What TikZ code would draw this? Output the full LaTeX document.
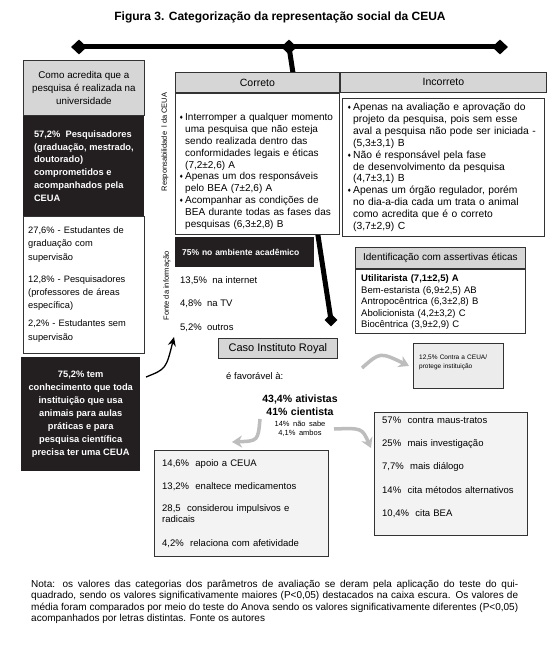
\documentclass[tikz,border=0pt]{standalone}
\usepackage{fontspec}
\setmainfont{Liberation Sans}
\newfontfamily\symfont{DejaVu Sans}
\usetikzlibrary{positioning,shapes.geometric,arrows.meta}

\definecolor{hdrgray}{HTML}{D6D6D6}
\definecolor{inkblack}{HTML}{231F20}
\definecolor{palegray}{HTML}{F3F3F3}
\definecolor{contragray}{HTML}{ECECEC}
\definecolor{brushgray}{HTML}{BDBDBD}
\definecolor{edgegray}{HTML}{333333}

\newcommand\fsz[2]{\fontsize{#1}{#2}\selectfont}
\newcommand\bul{\makebox[6pt][l]{\raisebox{1pt}{\symfont\fsz{5}{6}\char"2666}}}
\newcommand\ind{\hspace*{6pt}}

\begin{document}
\begin{tikzpicture}[x=1pt, y=-1pt,
  boxat/.style n args={4}{anchor=north west, at={(#1,#2)}, minimum width=#3pt, minimum height=#4pt},
  size/.style 2 args={minimum width=#1pt, minimum height=#2pt},
  tip/.style={diamond, fill=black, inner sep=0pt, minimum width=16pt, minimum height=15pt},
  bar/.style={line width=5pt},
  hdr/.style={draw=edgegray, line width=0.8pt, fill=hdrgray, inner sep=0pt, align=center},
  plain/.style={draw=edgegray, line width=0.8pt, fill=white, inner sep=0pt},
  pale/.style={draw=edgegray, line width=0.8pt, fill=palegray, inner sep=0pt},
  dark/.style={fill=inkblack, text=white, inner sep=0pt},
  txt/.style={anchor=base west, align=left, inner sep=0pt},
  brush/.style={draw=brushgray, line width=3.5pt, -{Stealth[length=10pt, width=12pt]}},
  ink/.style={line width=1.3pt, -{Stealth[length=9pt, width=8pt]}}
]
\path[use as bounding box, fill=white] (0,0) rectangle (549,658);

\node[font=\fsz{12}{14}\bfseries] (title) at (280,17) {Figura 3. Categorização da representação social da CEUA};

\node[tip] (barL) at (79,47) {};
\node[tip] (barM) at (289,47) {};
\node[tip] (barR) at (500,47) {};
\node[tip, minimum width=13pt, minimum height=13pt] (barE) at (331,320) {};
\draw[bar] (barL.center) -- (barR.center);
\draw[bar] (barM.center) -- (barE.center);

\node[hdr, boxat={23}{60}{121}{55}, font=\fsz{9.8}{13.3}] (crHead) {Como acredita que a\\pesquisa é realizada na\\universidade};
\node[dark, size={121}{100}, below=0pt of crHead, align=left, font=\fsz{9.3}{12.7}\bfseries] (crTop) {57,2\%~ Pesquisadores\\(graduação, mestrado,\\doutorado)\\comprometidos e\\acompanhados pela\\CEUA};
\node[plain, size={121}{137}, below=0pt of crTop] (crRest) {};
\node[txt, text width=115pt, font=\fsz{9.3}{13.3}] (crRestT) at (28,233.5) {27,6\% - Estudantes de\\graduação com\\supervisão\\[8.7pt]12,8\% - Pesquisadores\\(professores de áreas\\específica)\\[4.7pt]2,2\% - Estudantes sem\\supervisão};
\node[dark, boxat={21}{357}{119}{114}, align=center, font=\fsz{9.3}{13}\bfseries] (know) {75,2\% tem\\conhecimento que toda\\instituição que usa\\animais para aulas\\práticas e para\\pesquisa científica\\precisa ter uma CEUA};

\node[rotate=90, font=\fsz{7.5}{9}] (resp) at (165,142) {Responsabilidade\ \ l da CEUA};
\node[rotate=90, font=\fsz{7.5}{9}] (fonte) at (167,286) {Fonte da informação};

\node[hdr, boxat={175}{72}{164}{20}, font=\fsz{10.5}{12}] (corH) {Correto};
\node[plain, size={164}{141}, below=0pt of corH] (corB) {};
\node[txt, text width=160pt, font=\fsz{10}{11.9}] (corT) at (179,120.5) {\bul Interromper a qualquer momento\\\ind uma pesquisa que não esteja\\\ind sendo realizada dentro das\\\ind conformidades legais e éticas\\\ind (7,2±2,6) A\\\bul Apenas um dos responsáveis\\\ind pelo BEA (7±2,6) A\\\bul Acompanhar as condições de\\\ind BEA durante todas as fases das\\\ind pesquisas (6,3±2,8) B};

\node[hdr, boxat={340}{72}{206}{20}, font=\fsz{10.5}{12}] (incH) {Incorreto};
\node[plain, size={202}{138}, below=5pt of incH] (incB) {};
\node[txt, text width=195pt, font=\fsz{10.3}{11.9}] (incT) at (347,110.5) {\bul Apenas na avaliação e aprovação do\\\ind projeto da pesquisa, pois sem esse\\\ind aval a pesquisa não pode ser iniciada -\\\ind (5,3±3,1) B\\\bul Não é responsável pela fase\\\ind de desenvolvimento da pesquisa\\\ind (4,7±3,1) B\\\bul Apenas um órgão regulador, porém\\\ind no dia-a-dia cada um trata o animal\\\ind como acredita que é o correto\\\ind (3,7±2,9) C};

\node[dark, boxat={175}{237}{139}{30}, align=left, text width=125pt, inner xsep=7pt, font=\fsz{8.5}{10}\bfseries] (acad) {75\% no ambiente acadêmico};
\node[txt, font=\fsz{9.5}{11}] (inet) at (180,283.3) {13,5\%~ na internet};
\node[txt, font=\fsz{9.5}{11}] (tv) at (180,306.3) {4,8\%~ na TV};
\node[txt, font=\fsz{9.5}{11}] (outros) at (180,330.3) {5,2\%~ outros};

\node[hdr, boxat={355}{247}{170}{21}, font=\fsz{10}{12}] (idH) {Identificação com assertivas éticas};
\node[plain, size={170}{64}, below=0pt of idH] (idB) {};
\node[txt, text width=160pt, font=\fsz{9.5}{11.5}] (idT) at (361,281.5) {\textbf{Utilitarista (7,1±2,5) A}\\Bem-estarista (6,9±2,5) AB\\Antropocêntrica (6,3±2,8) B\\Abolicionista (4,2±3,2) C\\Biocêntrica (3,9±2,9) C};

\node[hdr, boxat={218}{338}{119}{20}, font=\fsz{11}{13}] (caso) {Caso Instituto Royal};
\node[txt, font=\fsz{9.5}{11}] (favor) at (226,379) {é favorável à:};
\node[pale, boxat={413}{343}{90}{45}, fill=contragray] (contra) {};
\node[txt, text width=85pt, font=\fsz{6.5}{9}] (contraT) at (419,359.5) {12,5\% Contra a CEUA/\\protege instituição};

\node[anchor=base, align=center, text width=100pt, inner sep=0pt, font=\fsz{10.5}{13}\bfseries] (votes) at (300,402) {43,4\% ativistas\\41\% cientista\\[-2pt]{\mdseries\fsz{7.5}{10}14\% não sabe}\\[-4pt]{\mdseries\fsz{7.5}{10}4,1\% ambos}};

\node[pale, boxat={154}{450}{174}{106}] (apo) {};
\node[txt, text width=165pt, font=\fsz{9.5}{11.5}] (apoT) at (162,466.3) {14,6\%~ apoio a CEUA\\[11.5pt]13,2\%~ enaltece medicamentos\\[10.5pt]28,5~ considerou impulsivos e\\radicais\\[12.5pt]4,2\%~ relaciona com afetividade};
\node[pale, boxat={374}{412}{153}{123}] (mau) {};
\node[txt, text width=145pt, font=\fsz{9.5}{23.3}] (mauT) at (382,423.3) {57\%~ contra maus-tratos\\25\%~ mais investigação\\7,7\%~ mais diálogo\\14\%~ cita métodos alternativos\\10,4\%~ cita BEA};

\node[txt, text width=487pt, align=justify, font=\fsz{10}{11.5}] (nota) at (31,587.3) {Nota: os valores das categorias dos parâmetros de avaliação se deram pela aplicação do teste do qui-\linebreak quadrado, sendo os valores significativamente maiores (P<0,05) destacados na caixa escura. Os valores de\linebreak média foram comparados por meio do teste do Anova sendo os valores significativamente diferentes (P<0,05)\linebreak acompanhados por letras distintas. Fonte os autores};

\coordinate (knowTail) at (146,377);
\coordinate (fonteTip) at (174,337);
\draw[ink] (knowTail) .. controls (166,369) .. (fonteTip);
\coordinate (casoTail) at (362,368);
\draw[brush] (casoTail) .. controls (380,352) .. ([xshift=-4pt]contra.west);
\coordinate (votesL) at (260,419);
\coordinate (apoTip) at (232,442);
\draw[brush] (votesL) .. controls (258,441) .. (apoTip);
\coordinate (votesR) at (334,429);
\coordinate (mauTip) at (371,448);
\draw[brush] (votesR) .. controls (362,428) .. (mauTip);

\end{tikzpicture}
\end{document}
